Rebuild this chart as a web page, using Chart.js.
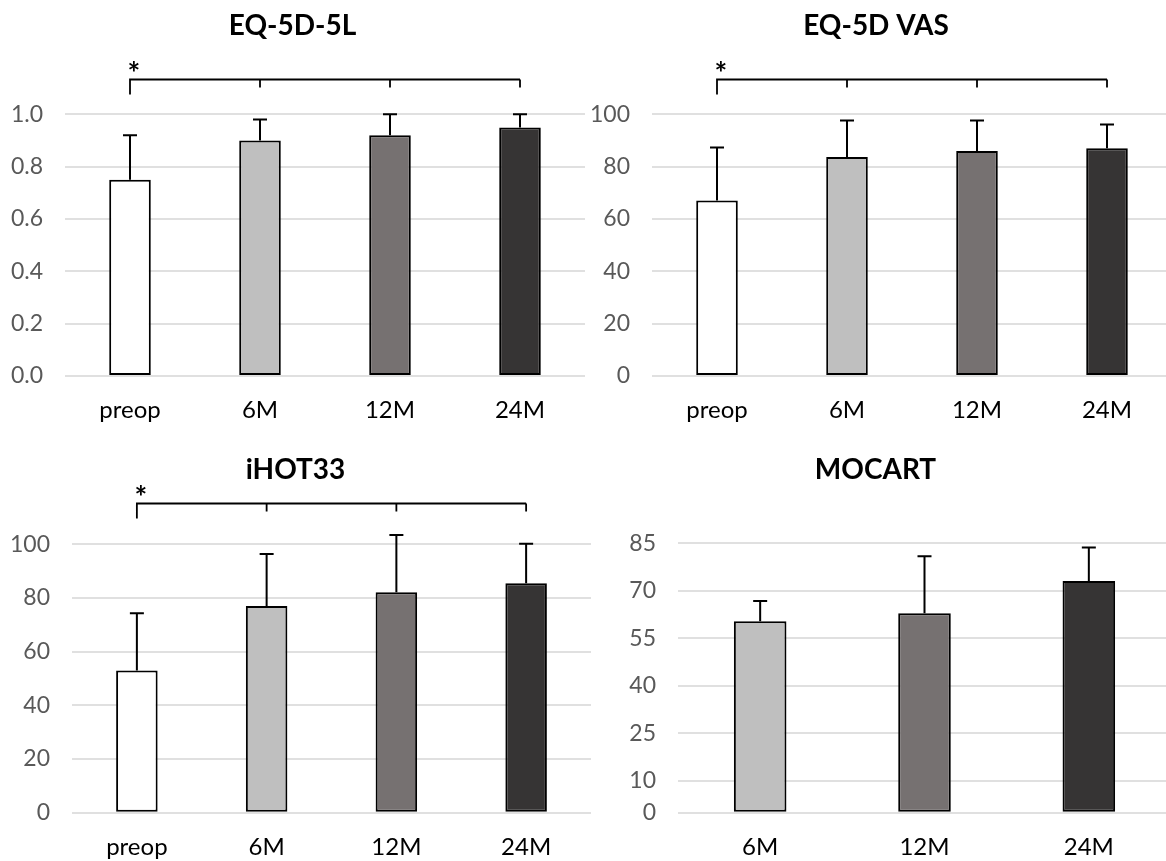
<!DOCTYPE html>
<html>
<head>
<meta charset="utf-8">
<script src="https://cdn.jsdelivr.net/npm/chart.js@4/dist/chart.umd.min.js"></script>
<style>
  html, body { margin: 0; padding: 0; background: #fff; overflow: hidden; }
  canvas { position: absolute; }
</style>
</head>
<body>
<canvas id="c1" width="668" height="430" style="left:0px;top:0px"></canvas>
<canvas id="c2" width="686" height="430" style="left:580px;top:0px"></canvas>
<canvas id="c3" width="678" height="431" style="left:0px;top:430px"></canvas>
<canvas id="c4" width="670" height="431" style="left:580px;top:430px"></canvas>
<script>
// categories
const cats4 = ['preop', '6M', '12M', '24M']
const cats3 = ['6M', '12M', '24M']

// EQ-5D-5L
const eqMean = [0.75, 0.90, 0.92, 0.95]
const eqSd = [0.17, 0.08, 0.08, 0.05]

// EQ-5D VAS
const vasMean = [67.1, 83.7, 86.0, 87.0]
const vasSd = [20.2, 13.9, 11.6, 9.1]

// iHOT33
const ihotMean = [53.0, 77.0, 82.1, 85.5]
const ihotSd = [21.3, 19.4, 21.4, 14.7]

// MOCART (no preop)
const mocMean = [60.4, 62.9, 73.1]
const mocSd = [6.4, 18.0, 10.6]
const mocTicks = [0, 10, 25, 40, 55, 70, 85]

const barColors4 = ['#ffffff', '#bfbfbf', '#767171', '#363434']
const barColors3 = ['#bfbfbf', '#767171', '#363434']

// error bars + significance bracket
const errorBars = {
  id: 'errorBars',
  afterDatasetsDraw(chart) {
    const ctx = chart.ctx
    const ds = chart.data.datasets[0]
    const meta = chart.getDatasetMeta(0)
    const y = chart.scales.y
    ctx.save()
    ctx.strokeStyle = '#000'
    ctx.lineWidth = 2
    meta.data.forEach((bar, i) => {
      const top = y.getPixelForValue(ds.data[i] + ds.errors[i])
      ctx.beginPath()
      ctx.moveTo(bar.x, bar.y)
      ctx.lineTo(bar.x, top)
      ctx.moveTo(bar.x - 7, top)
      ctx.lineTo(bar.x + 7, top)
      ctx.stroke()
    })
    if (ds.bracket != null) {
      const by = Math.round(y.getPixelForValue(ds.bracket)) + 0.5
      const x0 = meta.data[0].x
      const x1 = meta.data[meta.data.length - 1].x
      ctx.lineWidth = 1.8
      ctx.beginPath()
      ctx.moveTo(x0, by + 15)
      ctx.lineTo(x0, by)
      ctx.lineTo(x1, by)
      meta.data.forEach((bar, i) => {
        if (i > 0) {
          ctx.moveTo(bar.x, by)
          ctx.lineTo(bar.x, by + 8)
        }
      })
      ctx.stroke()
      ctx.fillStyle = '#000'
      ctx.font = 'bold 30px Lato'
      ctx.textAlign = 'center'
      ctx.textBaseline = 'alphabetic'
      ctx.fillText('*', x0 + 4, by + 4)
    }
    ctx.restore()
  }
}

function makePanel(id, title, labels, means, sds, colors, opt) {
  const yScale = {
    min: 0,
    max: opt.yMax,
    grid: { color: '#e0e0e0', lineWidth: 2, drawTicks: false },
    border: { display: false },
    ticks: {
      color: '#595959',
      font: { family: 'Lato', size: 23 },
      padding: 22,
      callback: opt.fmt
    },
    afterFit(s) { s.width = opt.yW }
  }
  if (opt.step) yScale.ticks.stepSize = opt.step
  if (opt.tickVals) {
    yScale.afterBuildTicks = (s) => { s.ticks = opt.tickVals.map(v => ({ value: v })) }
  }
  new Chart(document.getElementById(id), {
    type: 'bar',
    data: {
      labels: labels,
      datasets: [{
        data: means,
        errors: sds,
        bracket: opt.bracket,
        backgroundColor: colors,
        borderColor: '#000',
        borderWidth: 2,
        borderSkipped: false,
        barPercentage: 0.32,
        categoryPercentage: 1
      }]
    },
    options: {
      responsive: false,
      animation: false,
      layout: { padding: { left: 0, right: opt.padR, top: 0, bottom: 0 } },
      plugins: {
        legend: { display: false },
        tooltip: { enabled: false },
        title: {
          display: true,
          text: title,
          color: '#000',
          font: { family: 'Lato', size: 28, weight: 'bold', lineHeight: 1.2 },
          padding: { top: opt.tTop, bottom: opt.tBot }
        }
      },
      scales: {
        x: {
          grid: { display: false, drawTicks: false },
          border: { display: false },
          ticks: { color: '#000', font: { family: 'Lato', size: 24 }, padding: 20 },
          afterFit(s) { s.height = opt.xH }
        },
        y: yScale
      }
    },
    plugins: [errorBars]
  })
}

makePanel('c1', 'EQ-5D-5L', cats4, eqMean, eqSd, barColors4, {
  yMax: 1, step: 0.2, fmt: v => v.toFixed(1), bracket: 1.135,
  yW: 65, padR: 83, tTop: 9, tBot: 71.7, xH: 54
})
makePanel('c2', 'EQ-5D VAS', cats4, vasMean, vasSd, barColors4, {
  yMax: 100, step: 20, fmt: v => v, bracket: 113.5,
  yW: 72, padR: 94, tTop: 9, tBot: 71.7, xH: 54
})
makePanel('c3', 'iHOT33', cats4, ihotMean, ihotSd, barColors4, {
  yMax: 100, step: 20, fmt: v => v, bracket: 115.3,
  yW: 72, padR: 87, tTop: 23, tBot: 57.7, xH: 48.3
})
makePanel('c4', 'MOCART', cats3, mocMean, mocSd, barColors3, {
  yMax: 85, tickVals: mocTicks, fmt: v => v, bracket: null,
  yW: 98, padR: 79, tTop: 23, tBot: 56.7, xH: 48.3
})
</script>
</body>
</html>
